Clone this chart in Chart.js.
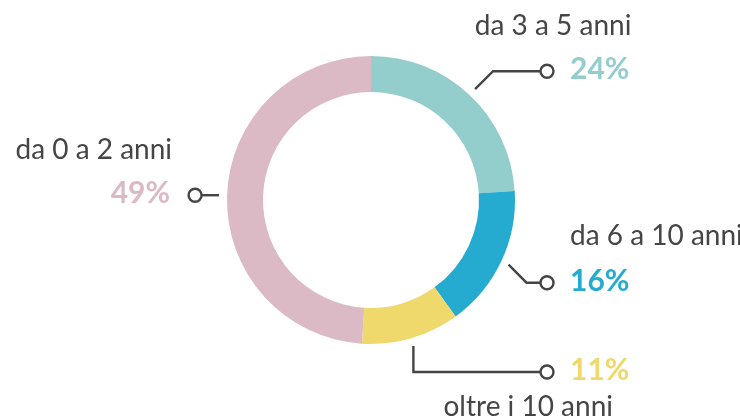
<!DOCTYPE html>
<html>
<head>
<meta charset="utf-8">
<script src="https://cdn.jsdelivr.net/npm/chart.js@4/dist/chart.umd.min.js"></script>
<style>
html,body{margin:0;padding:0;background:#fff;}
#wrap{width:740px;height:420px;position:relative;}
</style>
</head>
<body>
<div id="wrap"><canvas id="c" width="740" height="420"></canvas></div>
<script>
const categories = ["da 3 a 5 anni", "da 6 a 10 anni", "oltre i 10 anni", "da 0 a 2 anni"];
const values = [24, 16, 11, 49];
const valueLabels = ["24%", "16%", "11%", "49%"];
const colors = ["#93cdcc", "#25abcf", "#efd86c", "#dbbac5"];

// annotation layout (leader shapes and label placement)
const leaderStyle = [
  {kind: "diag", d: -18, side: "right", labelPos: "aboveRight"},
  {kind: "diag", d: 18, side: "right", labelPos: "aboveLeft"},
  {kind: "vert", d: 26, side: "right", labelPos: "below"},
  {kind: "horiz", d: 24, side: "left", labelPos: "aboveRight"}
];
const CIRCLE_X_RIGHT = 547;
const TEXT_COLOR = "#454545";
const LINE_COLOR = "#454545";
const LABEL_FONT = "28px Lato";
const PCT_FONT = "bold 30px Lato";

const leaderPlugin = {
  id: "leaders",
  afterDraw(chart) {
    const ctx = chart.ctx;
    const meta = chart.getDatasetMeta(0);
    meta.data.forEach((arc, i) => {
      const p = arc.getProps(["x", "y", "startAngle", "endAngle", "outerRadius"], true);
      const mid = (p.startAngle + p.endAngle) / 2;
      const r0 = p.outerRadius + 8;
      const sx = p.x + Math.cos(mid) * r0;
      const sy = p.y + Math.sin(mid) * r0;
      const st = leaderStyle[i];
      let pts = [[sx, sy]];
      let cx, cy;
      if (st.kind === "diag") {
        const ex = sx + Math.abs(st.d), ey = sy + st.d;
        pts.push([ex, ey]);
        cx = CIRCLE_X_RIGHT; cy = ey;
      } else if (st.kind === "vert") {
        pts.push([sx, sy + st.d]);
        cx = CIRCLE_X_RIGHT; cy = sy + st.d;
      } else {
        cx = sx - st.d; cy = sy;
      }
      const cr = 6.5;
      const endX = st.side === "right" ? cx - cr : cx + cr;
      pts.push([endX, cy]);
      ctx.save();
      ctx.strokeStyle = LINE_COLOR;
      ctx.lineWidth = 2.4;
      ctx.lineJoin = "miter";
      ctx.beginPath();
      ctx.moveTo(pts[0][0], pts[0][1]);
      for (let k = 1; k < pts.length; k++) ctx.lineTo(pts[k][0], pts[k][1]);
      ctx.stroke();
      ctx.beginPath();
      ctx.arc(cx, cy, cr, 0, Math.PI * 2);
      ctx.fillStyle = "#fff";
      ctx.fill();
      ctx.stroke();

      // percentage
      ctx.font = PCT_FONT;
      ctx.fillStyle = colors[i];
      ctx.textBaseline = "alphabetic";
      const pctW = ctx.measureText(valueLabels[i]).width;
      let pl, pb = cy + 8;
      if (st.side === "right") { pl = cx + 23; }
      else { pl = cx - 25 - pctW; }
      ctx.textAlign = "left";
      ctx.fillText(valueLabels[i], pl, pb);
      const pr = pl + pctW;

      // category label
      ctx.font = LABEL_FONT;
      ctx.fillStyle = TEXT_COLOR;
      if (st.labelPos === "aboveRight") {
        ctx.textAlign = "right";
        ctx.fillText(categories[i], pr + 2, pb - 44);
      } else if (st.labelPos === "aboveLeft") {
        ctx.textAlign = "left";
        ctx.fillText(categories[i], pl, pb - 46);
      } else {
        ctx.textAlign = "right";
        ctx.fillText(categories[i], cx + 66, pb + 36);
      }
      ctx.restore();
    });
  }
};

new Chart(document.getElementById("c"), {
  type: "doughnut",
  data: {
    labels: categories,
    datasets: [{
      data: values,
      backgroundColor: colors,
      borderWidth: 0
    }]
  },
  options: {
    responsive: false,
    animation: false,
    cutout: "75%",
    layout: {padding: {top: 56, bottom: 76, left: 227, right: 225}},
    plugins: {legend: {display: false}, tooltip: {enabled: false}}
  },
  plugins: [leaderPlugin]
});
</script>
</body>
</html>
